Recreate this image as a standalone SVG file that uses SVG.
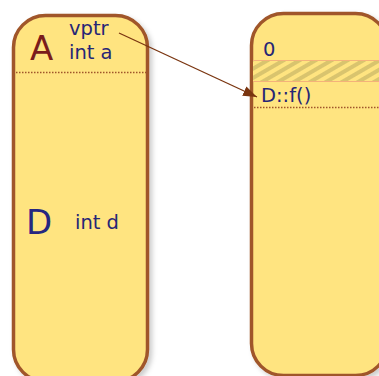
<svg xmlns="http://www.w3.org/2000/svg" width="379" height="376" viewBox="0 0 379 376">
<style>
.box{fill:#ffe480;stroke:#a0562a;stroke-width:3.5}
.t{font-family:"DejaVu Sans",sans-serif;font-size:19.5px;fill:#262676}
.big{font-family:"DejaVu Sans",sans-serif;font-size:34px}
.dot{stroke:#a0562a;stroke-width:1.5;stroke-dasharray:1.5 1.5;fill:none}
.conn{stroke:#7a3510;stroke-width:1.3;fill:none}
</style>
<defs>
<filter id="sh" x="-10%" y="-5%" width="130%" height="115%">
<feDropShadow dx="3" dy="3" stdDeviation="2.5" flood-color="#000" flood-opacity="0.2"/>
</filter>
<pattern id="hatch" width="8" height="8" patternUnits="userSpaceOnUse" patternTransform="rotate(-30)">
<rect width="8" height="8" fill="#ffe480"/>
<rect y="0" width="8" height="4" fill="#d9c46e"/>
</pattern>
<marker id="ah2" viewBox="0 0 14 10" refX="14" refY="5" markerWidth="14" markerHeight="11" markerUnits="userSpaceOnUse" orient="auto">
<path d="M0,0 L14,5 L0,10 z" fill="#7a3510"/>
</marker>
</defs>
<g id="classA">
<rect class="box" x="13.5" y="15.5" width="134" height="366" rx="32" ry="32" filter="url(#sh)"/>
<line class="dot" x1="16" y1="72.5" x2="146" y2="72.5"/>
<text class="big" x="30" y="60" fill="#7a1c1c">A</text>
<text class="t" x="69" y="35">vptr</text>
<text class="t" x="69" y="59">int a</text>
<text class="big" x="26" y="234" fill="#262680">D</text>
<text class="t" x="75" y="229">int d</text>
</g>
<g id="vtable">
<rect class="box" x="251.5" y="13.5" width="136" height="362" rx="32" ry="32" filter="url(#sh)"/>
<rect x="253" y="60" width="126" height="22" fill="url(#hatch)"/>
<line x1="253" y1="60.5" x2="379" y2="60.5" stroke="#f4b27a" stroke-width="1"/>
<line x1="253" y1="81.5" x2="379" y2="81.5" stroke="#f4b27a" stroke-width="1"/>
<line class="dot" x1="254" y1="107.5" x2="379" y2="107.5"/>
<text class="t" x="263" y="56">0</text>
<text class="t" x="261" y="102">D::f()</text>
</g>
<g id="connectors">
<line class="conn" x1="119" y1="33" x2="257" y2="97" marker-end="url(#ah2)"/>
</g>
</svg>
